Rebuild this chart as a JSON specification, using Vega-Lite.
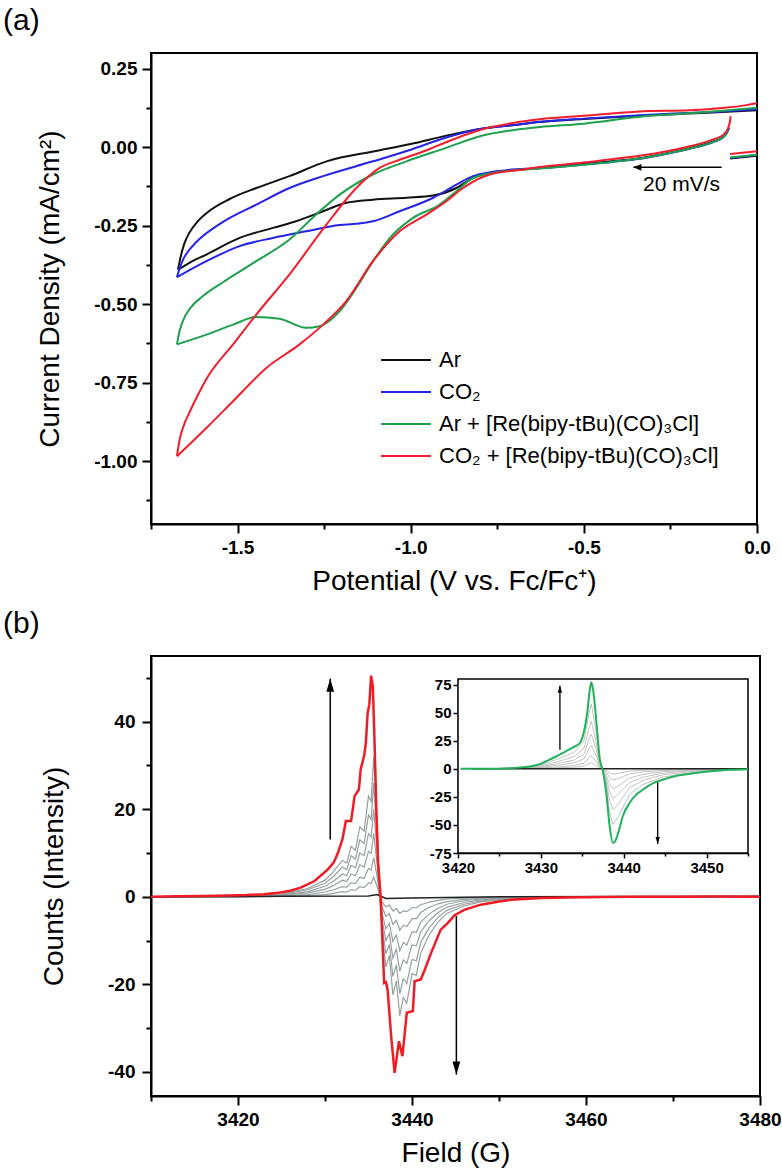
{
"$schema": "https://vega.github.io/schema/vega-lite/v6.json",
"padding": {"left": 2, "top": 5, "right": 10, "bottom": 5},
"spacing": 12,
"config": {
  "font": "Liberation Sans",
  "view": {"stroke": "black", "strokeWidth": 2},
  "axis": {"domainColor": "black", "domainWidth": 2, "tickColor": "black", "tickWidth": 2, "labelColor": "black", "titleColor": "black", "labelFont": "Liberation Sans", "titleFont": "Liberation Sans", "labelFontSize": 19, "labelFontWeight": "bold", "titleFontSize": 28, "titleFontWeight": "normal", "grid": false, "labelFlush": false, "labelOverlap": false, "labelBound": false},
  "title": {"font": "Liberation Sans", "fontSize": 30, "fontWeight": "normal", "color": "black"}
},
"datasets": {
  "cv": [
    {"s":"Ar","g":"lo","x":-1.672,"y":-0.39},{"s":"Ar","g":"lo","x":-1.639,"y":-0.368},{"s":"Ar","g":"lo","x":-1.59,"y":-0.342},{"s":"Ar","g":"lo","x":-1.494,"y":-0.289},{"s":"Ar","g":"lo","x":-1.398,"y":-0.257},{"s":"Ar","g":"lo","x":-1.331,"y":-0.236},{"s":"Ar","g":"lo","x":-1.253,"y":-0.204},{"s":"Ar","g":"lo","x":-1.186,"y":-0.177},{"s":"Ar","g":"lo","x":-1.109,"y":-0.167},{"s":"Ar","g":"lo","x":-1.012,"y":-0.161},{"s":"Ar","g":"lo","x":-0.935,"y":-0.154},{"s":"Ar","g":"lo","x":-0.868,"y":-0.13},{"s":"Ar","g":"lo","x":-0.82,"y":-0.098},{"s":"Ar","g":"lo","x":-0.772,"y":-0.082},{"s":"Ar","g":"lo","x":-0.675,"y":-0.071},{"s":"Ar","g":"lo","x":-0.627,"y":-0.066},{"s":"Ar","g":"lo","x":-0.5,"y":-0.053},{"s":"Ar","g":"lo","x":-0.42,"y":-0.045},{"s":"Ar","g":"lo","x":-0.338,"y":-0.035},{"s":"Ar","g":"lo","x":-0.26,"y":-0.019},{"s":"Ar","g":"lo","x":-0.194,"y":-0.003},{"s":"Ar","g":"lo","x":-0.126,"y":0.018},{"s":"Ar","g":"lo","x":-0.097,"y":0.033},{"s":"Ar","g":"lo","x":-0.088,"y":0.045},{"s":"Ar","g":"lo","x":-0.083,"y":0.059},
    {"s":"Ar","g":"up","x":-1.672,"y":-0.39},{"s":"Ar","g":"up","x":-1.665,"y":-0.352},{"s":"Ar","g":"up","x":-1.654,"y":-0.308},{"s":"Ar","g":"up","x":-1.639,"y":-0.272},{"s":"Ar","g":"up","x":-1.615,"y":-0.236},{"s":"Ar","g":"up","x":-1.59,"y":-0.21},{"s":"Ar","g":"up","x":-1.523,"y":-0.165},{"s":"Ar","g":"up","x":-1.446,"y":-0.13},{"s":"Ar","g":"up","x":-1.35,"y":-0.092},{"s":"Ar","g":"up","x":-1.243,"y":-0.045},{"s":"Ar","g":"up","x":-1.1,"y":-0.012},{"s":"Ar","g":"up","x":-1.0,"y":0.01},{"s":"Ar","g":"up","x":-0.9,"y":0.036},{"s":"Ar","g":"up","x":-0.8,"y":0.058},{"s":"Ar","g":"up","x":-0.7,"y":0.071},{"s":"Ar","g":"up","x":-0.627,"y":0.08},{"s":"Ar","g":"up","x":-0.5,"y":0.09},{"s":"Ar","g":"up","x":-0.338,"y":0.1},{"s":"Ar","g":"up","x":-0.2,"y":0.107},{"s":"Ar","g":"up","x":-0.1,"y":0.112},{"s":"Ar","g":"up","x":0,"y":0.118},
    {"s":"Ar","g":"st","x":-0.078,"y":-0.036},{"s":"Ar","g":"st","x":0,"y":-0.027},
    {"s":"CO2","g":"lo","x":-1.675,"y":-0.414},{"s":"CO2","g":"lo","x":-1.59,"y":-0.363},{"s":"CO2","g":"lo","x":-1.494,"y":-0.315},{"s":"CO2","g":"lo","x":-1.398,"y":-0.289},{"s":"CO2","g":"lo","x":-1.302,"y":-0.268},{"s":"CO2","g":"lo","x":-1.205,"y":-0.248},{"s":"CO2","g":"lo","x":-1.157,"y":-0.244},{"s":"CO2","g":"lo","x":-1.109,"y":-0.236},{"s":"CO2","g":"lo","x":-1.032,"y":-0.204},{"s":"CO2","g":"lo","x":-0.935,"y":-0.161},{"s":"CO2","g":"lo","x":-0.868,"y":-0.119},{"s":"CO2","g":"lo","x":-0.82,"y":-0.092},{"s":"CO2","g":"lo","x":-0.723,"y":-0.073},{"s":"CO2","g":"lo","x":-0.627,"y":-0.067},{"s":"CO2","g":"lo","x":-0.5,"y":-0.055},{"s":"CO2","g":"lo","x":-0.42,"y":-0.047},{"s":"CO2","g":"lo","x":-0.338,"y":-0.037},{"s":"CO2","g":"lo","x":-0.26,"y":-0.021},{"s":"CO2","g":"lo","x":-0.194,"y":-0.005},{"s":"CO2","g":"lo","x":-0.126,"y":0.016},{"s":"CO2","g":"lo","x":-0.097,"y":0.032},{"s":"CO2","g":"lo","x":-0.087,"y":0.046},{"s":"CO2","g":"lo","x":-0.08,"y":0.062},
    {"s":"CO2","g":"up","x":-1.675,"y":-0.414},{"s":"CO2","g":"up","x":-1.667,"y":-0.385},{"s":"CO2","g":"up","x":-1.656,"y":-0.355},{"s":"CO2","g":"up","x":-1.638,"y":-0.325},{"s":"CO2","g":"up","x":-1.619,"y":-0.302},{"s":"CO2","g":"up","x":-1.542,"y":-0.238},{"s":"CO2","g":"up","x":-1.446,"y":-0.183},{"s":"CO2","g":"up","x":-1.35,"y":-0.13},{"s":"CO2","g":"up","x":-1.253,"y":-0.092},{"s":"CO2","g":"up","x":-1.109,"y":-0.045},{"s":"CO2","g":"up","x":-1.0,"y":-0.008},{"s":"CO2","g":"up","x":-0.9,"y":0.03},{"s":"CO2","g":"up","x":-0.8,"y":0.058},{"s":"CO2","g":"up","x":-0.7,"y":0.071},{"s":"CO2","g":"up","x":-0.627,"y":0.081},{"s":"CO2","g":"up","x":-0.5,"y":0.091},{"s":"CO2","g":"up","x":-0.338,"y":0.102},{"s":"CO2","g":"up","x":-0.2,"y":0.109},{"s":"CO2","g":"up","x":-0.1,"y":0.114},{"s":"CO2","g":"up","x":0,"y":0.121},
    {"s":"CO2","g":"st","x":-0.078,"y":-0.034},{"s":"CO2","g":"st","x":0,"y":-0.025},
    {"s":"ArRe","g":"lo","x":-1.675,"y":-0.628},{"s":"ArRe","g":"lo","x":-1.59,"y":-0.597},{"s":"ArRe","g":"lo","x":-1.513,"y":-0.565},{"s":"ArRe","g":"lo","x":-1.446,"y":-0.541},{"s":"ArRe","g":"lo","x":-1.379,"y":-0.546},{"s":"ArRe","g":"lo","x":-1.302,"y":-0.575},{"s":"ArRe","g":"lo","x":-1.263,"y":-0.57},{"s":"ArRe","g":"lo","x":-1.205,"y":-0.522},{"s":"ArRe","g":"lo","x":-1.157,"y":-0.448},{"s":"ArRe","g":"lo","x":-1.109,"y":-0.363},{"s":"ArRe","g":"lo","x":-1.051,"y":-0.278},{"s":"ArRe","g":"lo","x":-0.993,"y":-0.225},{"s":"ArRe","g":"lo","x":-0.916,"y":-0.183},{"s":"ArRe","g":"lo","x":-0.868,"y":-0.14},{"s":"ArRe","g":"lo","x":-0.82,"y":-0.098},{"s":"ArRe","g":"lo","x":-0.723,"y":-0.076},{"s":"ArRe","g":"lo","x":-0.627,"y":-0.068},{"s":"ArRe","g":"lo","x":-0.5,"y":-0.056},{"s":"ArRe","g":"lo","x":-0.42,"y":-0.047},{"s":"ArRe","g":"lo","x":-0.338,"y":-0.036},{"s":"ArRe","g":"lo","x":-0.26,"y":-0.02},{"s":"ArRe","g":"lo","x":-0.194,"y":-0.004},{"s":"ArRe","g":"lo","x":-0.126,"y":0.017},{"s":"ArRe","g":"lo","x":-0.097,"y":0.033},{"s":"ArRe","g":"lo","x":-0.088,"y":0.046},{"s":"ArRe","g":"lo","x":-0.082,"y":0.062},
    {"s":"ArRe","g":"up","x":-1.675,"y":-0.628},{"s":"ArRe","g":"up","x":-1.668,"y":-0.588},{"s":"ArRe","g":"up","x":-1.656,"y":-0.548},{"s":"ArRe","g":"up","x":-1.636,"y":-0.512},{"s":"ArRe","g":"up","x":-1.6,"y":-0.474},{"s":"ArRe","g":"up","x":-1.542,"y":-0.43},{"s":"ArRe","g":"up","x":-1.446,"y":-0.363},{"s":"ArRe","g":"up","x":-1.35,"y":-0.294},{"s":"ArRe","g":"up","x":-1.273,"y":-0.214},{"s":"ArRe","g":"up","x":-1.205,"y":-0.151},{"s":"ArRe","g":"up","x":-1.109,"y":-0.087},{"s":"ArRe","g":"up","x":-1.012,"y":-0.045},{"s":"ArRe","g":"up","x":-0.9,"y":-0.003},{"s":"ArRe","g":"up","x":-0.8,"y":0.035},{"s":"ArRe","g":"up","x":-0.7,"y":0.055},{"s":"ArRe","g":"up","x":-0.627,"y":0.064},{"s":"ArRe","g":"up","x":-0.5,"y":0.075},{"s":"ArRe","g":"up","x":-0.338,"y":0.097},{"s":"ArRe","g":"up","x":-0.2,"y":0.108},{"s":"ArRe","g":"up","x":-0.1,"y":0.116},{"s":"ArRe","g":"up","x":0,"y":0.126},
    {"s":"ArRe","g":"st","x":-0.078,"y":-0.033},{"s":"ArRe","g":"st","x":0,"y":-0.024},
    {"s":"CO2Re","g":"lo","x":-1.675,"y":-0.984},{"s":"CO2Re","g":"lo","x":-1.59,"y":-0.894},{"s":"CO2Re","g":"lo","x":-1.513,"y":-0.809},{"s":"CO2Re","g":"lo","x":-1.417,"y":-0.703},{"s":"CO2Re","g":"lo","x":-1.321,"y":-0.628},{"s":"CO2Re","g":"lo","x":-1.253,"y":-0.565},{"s":"CO2Re","g":"lo","x":-1.186,"y":-0.49},{"s":"CO2Re","g":"lo","x":-1.109,"y":-0.363},{"s":"CO2Re","g":"lo","x":-1.032,"y":-0.268},{"s":"CO2Re","g":"lo","x":-0.954,"y":-0.214},{"s":"CO2Re","g":"lo","x":-0.897,"y":-0.172},{"s":"CO2Re","g":"lo","x":-0.849,"y":-0.13},{"s":"CO2Re","g":"lo","x":-0.772,"y":-0.087},{"s":"CO2Re","g":"lo","x":-0.675,"y":-0.071},{"s":"CO2Re","g":"lo","x":-0.627,"y":-0.063},{"s":"CO2Re","g":"lo","x":-0.5,"y":-0.049},{"s":"CO2Re","g":"lo","x":-0.42,"y":-0.038},{"s":"CO2Re","g":"lo","x":-0.338,"y":-0.027},{"s":"CO2Re","g":"lo","x":-0.26,"y":-0.013},{"s":"CO2Re","g":"lo","x":-0.194,"y":0.003},{"s":"CO2Re","g":"lo","x":-0.126,"y":0.025},{"s":"CO2Re","g":"lo","x":-0.097,"y":0.04},{"s":"CO2Re","g":"lo","x":-0.085,"y":0.057},{"s":"CO2Re","g":"lo","x":-0.079,"y":0.077},{"s":"CO2Re","g":"lo","x":-0.076,"y":0.099},
    {"s":"CO2Re","g":"up","x":-1.675,"y":-0.984},{"s":"CO2Re","g":"up","x":-1.668,"y":-0.935},{"s":"CO2Re","g":"up","x":-1.655,"y":-0.885},{"s":"CO2Re","g":"up","x":-1.639,"y":-0.845},{"s":"CO2Re","g":"up","x":-1.615,"y":-0.79},{"s":"CO2Re","g":"up","x":-1.59,"y":-0.738},{"s":"CO2Re","g":"up","x":-1.513,"y":-0.628},{"s":"CO2Re","g":"up","x":-1.446,"y":-0.533},{"s":"CO2Re","g":"up","x":-1.35,"y":-0.405},{"s":"CO2Re","g":"up","x":-1.243,"y":-0.246},{"s":"CO2Re","g":"up","x":-1.157,"y":-0.13},{"s":"CO2Re","g":"up","x":-1.09,"y":-0.066},{"s":"CO2Re","g":"up","x":-1.032,"y":-0.04},{"s":"CO2Re","g":"up","x":-0.95,"y":-0.008},{"s":"CO2Re","g":"up","x":-0.9,"y":0.015},{"s":"CO2Re","g":"up","x":-0.8,"y":0.055},{"s":"CO2Re","g":"up","x":-0.7,"y":0.078},{"s":"CO2Re","g":"up","x":-0.627,"y":0.089},{"s":"CO2Re","g":"up","x":-0.5,"y":0.1},{"s":"CO2Re","g":"up","x":-0.338,"y":0.114},{"s":"CO2Re","g":"up","x":-0.194,"y":0.118},{"s":"CO2Re","g":"up","x":-0.1,"y":0.125},{"s":"CO2Re","g":"up","x":-0.03,"y":0.134},{"s":"CO2Re","g":"up","x":0,"y":0.141},
    {"s":"CO2Re","g":"st","x":-0.078,"y":-0.022},{"s":"CO2Re","g":"st","x":0,"y":-0.013}
  ],
  "eprGray": [
    {"s":"g1","x":3410,"y":0},{"s":"g1","x":3420,"y":0.2},{"s":"g1","x":3425,"y":0.6},{"s":"g1","x":3428,"y":1.9},{"s":"g1","x":3430,"y":3.8},{"s":"g1","x":3431,"y":5.8},{"s":"g1","x":3432,"y":8.3},{"s":"g1","x":3432.5,"y":7.7},{"s":"g1","x":3433,"y":11.5},{"s":"g1","x":3433.5,"y":10.6},{"s":"g1","x":3434,"y":16},{"s":"g1","x":3434.5,"y":15},{"s":"g1","x":3435,"y":23},{"s":"g1","x":3435.3,"y":21.8},{"s":"g1","x":3435.6,"y":32},{"s":"g1","x":3436,"y":16},{"s":"g1","x":3436.3,"y":0},{"s":"g1","x":3436.6,"y":-9},{"s":"g1","x":3437,"y":-16},{"s":"g1","x":3437.4,"y":-13.4},{"s":"g1","x":3437.8,"y":-22.4},{"s":"g1","x":3438.2,"y":-19.2},{"s":"g1","x":3438.6,"y":-27.2},{"s":"g1","x":3439,"y":-23},{"s":"g1","x":3439.4,"y":-24.3},{"s":"g1","x":3440,"y":-17.6},{"s":"g1","x":3440.5,"y":-17.9},{"s":"g1","x":3441,"y":-12.8},{"s":"g1","x":3442,"y":-8.6},{"s":"g1","x":3443,"y":-5.8},{"s":"g1","x":3444,"y":-3.8},{"s":"g1","x":3446,"y":-2.1},{"s":"g1","x":3448,"y":-1.1},{"s":"g1","x":3452,"y":-0.4},{"s":"g1","x":3460,"y":0},{"s":"g1","x":3480,"y":0},
    {"s":"g2","x":3410,"y":0},{"s":"g2","x":3420,"y":0.1},{"s":"g2","x":3425,"y":0.5},{"s":"g2","x":3428,"y":1.6},{"s":"g2","x":3430,"y":3.1},{"s":"g2","x":3431,"y":4.7},{"s":"g2","x":3432,"y":6.8},{"s":"g2","x":3432.5,"y":6.2},{"s":"g2","x":3433,"y":9.4},{"s":"g2","x":3433.5,"y":8.6},{"s":"g2","x":3434,"y":13},{"s":"g2","x":3434.5,"y":12.2},{"s":"g2","x":3435,"y":18.7},{"s":"g2","x":3435.3,"y":17.7},{"s":"g2","x":3435.6,"y":26},{"s":"g2","x":3436,"y":13},{"s":"g2","x":3436.3,"y":0},{"s":"g2","x":3436.6,"y":-7.3},{"s":"g2","x":3437,"y":-13},{"s":"g2","x":3437.4,"y":-10.9},{"s":"g2","x":3437.8,"y":-18.2},{"s":"g2","x":3438.2,"y":-15.6},{"s":"g2","x":3438.6,"y":-22.1},{"s":"g2","x":3439,"y":-18.7},{"s":"g2","x":3439.4,"y":-19.8},{"s":"g2","x":3440,"y":-14.3},{"s":"g2","x":3440.5,"y":-14.6},{"s":"g2","x":3441,"y":-10.4},{"s":"g2","x":3442,"y":-7},{"s":"g2","x":3443,"y":-4.7},{"s":"g2","x":3444,"y":-3.1},{"s":"g2","x":3446,"y":-1.7},{"s":"g2","x":3448,"y":-0.9},{"s":"g2","x":3452,"y":-0.3},{"s":"g2","x":3460,"y":0},{"s":"g2","x":3480,"y":0},
    {"s":"g3","x":3410,"y":0},{"s":"g3","x":3420,"y":0.1},{"s":"g3","x":3425,"y":0.4},{"s":"g3","x":3428,"y":1.2},{"s":"g3","x":3430,"y":2.4},{"s":"g3","x":3431,"y":3.6},{"s":"g3","x":3432,"y":5.2},{"s":"g3","x":3432.5,"y":4.8},{"s":"g3","x":3433,"y":7.2},{"s":"g3","x":3433.5,"y":6.6},{"s":"g3","x":3434,"y":10},{"s":"g3","x":3434.5,"y":9.4},{"s":"g3","x":3435,"y":14.4},{"s":"g3","x":3435.3,"y":13.6},{"s":"g3","x":3435.6,"y":20},{"s":"g3","x":3436,"y":10},{"s":"g3","x":3436.3,"y":0},{"s":"g3","x":3436.6,"y":-5.6},{"s":"g3","x":3437,"y":-10},{"s":"g3","x":3437.4,"y":-8.4},{"s":"g3","x":3437.8,"y":-14},{"s":"g3","x":3438.2,"y":-12},{"s":"g3","x":3438.6,"y":-17},{"s":"g3","x":3439,"y":-14.4},{"s":"g3","x":3439.4,"y":-15.2},{"s":"g3","x":3440,"y":-11},{"s":"g3","x":3440.5,"y":-11.2},{"s":"g3","x":3441,"y":-8},{"s":"g3","x":3442,"y":-5.4},{"s":"g3","x":3443,"y":-3.6},{"s":"g3","x":3444,"y":-2.4},{"s":"g3","x":3446,"y":-1.3},{"s":"g3","x":3448,"y":-0.7},{"s":"g3","x":3452,"y":-0.2},{"s":"g3","x":3460,"y":0},{"s":"g3","x":3480,"y":0},
    {"s":"g4","x":3410,"y":0},{"s":"g4","x":3420,"y":0.1},{"s":"g4","x":3425,"y":0.3},{"s":"g4","x":3428,"y":0.9},{"s":"g4","x":3430,"y":1.7},{"s":"g4","x":3431,"y":2.6},{"s":"g4","x":3432,"y":3.8},{"s":"g4","x":3432.5,"y":3.5},{"s":"g4","x":3433,"y":5.2},{"s":"g4","x":3433.5,"y":4.8},{"s":"g4","x":3434,"y":7.3},{"s":"g4","x":3434.5,"y":6.8},{"s":"g4","x":3435,"y":10.4},{"s":"g4","x":3435.3,"y":9.9},{"s":"g4","x":3435.6,"y":14.5},{"s":"g4","x":3436,"y":7.3},{"s":"g4","x":3436.3,"y":0},{"s":"g4","x":3436.6,"y":-4.1},{"s":"g4","x":3437,"y":-7.3},{"s":"g4","x":3437.4,"y":-6.1},{"s":"g4","x":3437.8,"y":-10.2},{"s":"g4","x":3438.2,"y":-8.7},{"s":"g4","x":3438.6,"y":-12.3},{"s":"g4","x":3439,"y":-10.4},{"s":"g4","x":3439.4,"y":-11},{"s":"g4","x":3440,"y":-8},{"s":"g4","x":3440.5,"y":-8.1},{"s":"g4","x":3441,"y":-5.8},{"s":"g4","x":3442,"y":-3.9},{"s":"g4","x":3443,"y":-2.6},{"s":"g4","x":3444,"y":-1.7},{"s":"g4","x":3446,"y":-0.9},{"s":"g4","x":3448,"y":-0.5},{"s":"g4","x":3452,"y":-0.2},{"s":"g4","x":3460,"y":0},{"s":"g4","x":3480,"y":0},
    {"s":"g5","x":3410,"y":0},{"s":"g5","x":3420,"y":0},{"s":"g5","x":3425,"y":0.2},{"s":"g5","x":3428,"y":0.5},{"s":"g5","x":3430,"y":1.1},{"s":"g5","x":3431,"y":1.6},{"s":"g5","x":3432,"y":2.3},{"s":"g5","x":3432.5,"y":2.2},{"s":"g5","x":3433,"y":3.2},{"s":"g5","x":3433.5,"y":3},{"s":"g5","x":3434,"y":4.5},{"s":"g5","x":3434.5,"y":4.2},{"s":"g5","x":3435,"y":6.5},{"s":"g5","x":3435.3,"y":6.1},{"s":"g5","x":3435.6,"y":9},{"s":"g5","x":3436,"y":4.5},{"s":"g5","x":3436.3,"y":0},{"s":"g5","x":3436.6,"y":-2.5},{"s":"g5","x":3437,"y":-4.5},{"s":"g5","x":3437.4,"y":-3.8},{"s":"g5","x":3437.8,"y":-6.3},{"s":"g5","x":3438.2,"y":-5.4},{"s":"g5","x":3438.6,"y":-7.7},{"s":"g5","x":3439,"y":-6.5},{"s":"g5","x":3439.4,"y":-6.8},{"s":"g5","x":3440,"y":-5},{"s":"g5","x":3440.5,"y":-5},{"s":"g5","x":3441,"y":-3.6},{"s":"g5","x":3442,"y":-2.4},{"s":"g5","x":3443,"y":-1.6},{"s":"g5","x":3444,"y":-1.1},{"s":"g5","x":3446,"y":-0.6},{"s":"g5","x":3448,"y":-0.3},{"s":"g5","x":3452,"y":-0.1},{"s":"g5","x":3460,"y":0},{"s":"g5","x":3480,"y":0},
    {"s":"g6","x":3410,"y":0},{"s":"g6","x":3420,"y":0},{"s":"g6","x":3425,"y":0.1},{"s":"g6","x":3428,"y":0.3},{"s":"g6","x":3430,"y":0.5},{"s":"g6","x":3431,"y":0.8},{"s":"g6","x":3432,"y":1.2},{"s":"g6","x":3432.5,"y":1.1},{"s":"g6","x":3433,"y":1.6},{"s":"g6","x":3433.5,"y":1.5},{"s":"g6","x":3434,"y":2.3},{"s":"g6","x":3434.5,"y":2.1},{"s":"g6","x":3435,"y":3.2},{"s":"g6","x":3435.3,"y":3.1},{"s":"g6","x":3435.6,"y":4.5},{"s":"g6","x":3436,"y":2.3},{"s":"g6","x":3436.3,"y":0},{"s":"g6","x":3436.6,"y":-1.3},{"s":"g6","x":3437,"y":-2.3},{"s":"g6","x":3437.4,"y":-1.9},{"s":"g6","x":3437.8,"y":-3.2},{"s":"g6","x":3438.2,"y":-2.7},{"s":"g6","x":3438.6,"y":-3.8},{"s":"g6","x":3439,"y":-3.2},{"s":"g6","x":3439.4,"y":-3.4},{"s":"g6","x":3440,"y":-2.5},{"s":"g6","x":3440.5,"y":-2.5},{"s":"g6","x":3441,"y":-1.8},{"s":"g6","x":3442,"y":-1.2},{"s":"g6","x":3443,"y":-0.8},{"s":"g6","x":3444,"y":-0.5},{"s":"g6","x":3446,"y":-0.3},{"s":"g6","x":3448,"y":-0.2},{"s":"g6","x":3452,"y":-0.1},{"s":"g6","x":3460,"y":0},{"s":"g6","x":3480,"y":0}
  ],
  "eprBlack": [
    {"x":3410,"y":0},{"x":3425,"y":0.1},{"x":3435,"y":0.2},{"x":3436,"y":0.5},{"x":3437,"y":-0.4},{"x":3440,"y":-0.3},{"x":3450,"y":0},{"x":3480,"y":0.1}
  ],
  "eprRed": [
    {"x":3410,"y":0},{"x":3413,"y":0.1},{"x":3416,"y":0.2},{"x":3419,"y":0.3},{"x":3421,"y":0.4},{"x":3423,"y":0.6},{"x":3424.6,"y":0.9},{"x":3426,"y":1.4},{"x":3427.2,"y":2.1},{"x":3428.8,"y":3.6},{"x":3430.3,"y":6.2},{"x":3431,"y":7.8},{"x":3431.5,"y":10.1},{"x":3432,"y":13.1},{"x":3432.4,"y":17.3},{"x":3433,"y":17.3},{"x":3433.4,"y":23},{"x":3433.9,"y":24.5},{"x":3434.1,"y":29.1},{"x":3434.5,"y":32.2},{"x":3434.7,"y":35.2},{"x":3434.9,"y":42},{"x":3435.1,"y":44},{"x":3435.3,"y":50.5},{"x":3435.5,"y":48},{"x":3435.7,"y":35},{"x":3435.9,"y":20},{"x":3436.1,"y":8},{"x":3436.4,"y":-0.2},{"x":3436.6,"y":-10},{"x":3436.8,"y":-19.7},{"x":3437,"y":-19.5},{"x":3437.2,"y":-21.2},{"x":3437.6,"y":-31.8},{"x":3438,"y":-40.2},{"x":3438.5,"y":-33},{"x":3438.9,"y":-36.4},{"x":3439.4,"y":-26.5},{"x":3440.1,"y":-26.1},{"x":3440.3,"y":-19.3},{"x":3441,"y":-18.9},{"x":3441.4,"y":-17},{"x":3442.2,"y":-12.8},{"x":3443.3,"y":-7.5},{"x":3444.1,"y":-6},{"x":3444.9,"y":-4.2},{"x":3446,"y":-3},{"x":3447.9,"y":-1.8},{"x":3450.2,"y":-1},{"x":3451.8,"y":-0.6},{"x":3455,"y":-0.3},{"x":3459.4,"y":-0.1},{"x":3465,"y":0},{"x":3470,"y":0},{"x":3475,"y":0.05},{"x":3480,"y":0}
  ],
  "insGray": [
    {"s":"h1","x":3421.7,"y":0},{"s":"h1","x":3426,"y":0.4},{"s":"h1","x":3430,"y":3.4},{"s":"h1","x":3432,"y":8.6},{"s":"h1","x":3434,"y":14.6},{"s":"h1","x":3435.2,"y":24.8},{"s":"h1","x":3435.9,"y":52.5},{"s":"h1","x":3436.1,"y":57.8},{"s":"h1","x":3436.7,"y":31.5},{"s":"h1","x":3437.1,"y":7.1},{"s":"h1","x":3437.5,"y":-1.7},{"s":"h1","x":3437.9,"y":-16.2},{"s":"h1","x":3438.3,"y":-38.3},{"s":"h1","x":3438.7,"y":-49.5},{"s":"h1","x":3439.3,"y":-43.5},{"s":"h1","x":3440.7,"y":-22.9},{"s":"h1","x":3442.3,"y":-14},{"s":"h1","x":3444.7,"y":-7.4},{"s":"h1","x":3448.7,"y":-2.9},{"s":"h1","x":3455,"y":-0.2},
    {"s":"h2","x":3421.7,"y":0},{"s":"h2","x":3426,"y":0.3},{"s":"h2","x":3430,"y":2.5},{"s":"h2","x":3432,"y":6.3},{"s":"h2","x":3434,"y":10.7},{"s":"h2","x":3435.2,"y":18.2},{"s":"h2","x":3435.9,"y":38.5},{"s":"h2","x":3436.1,"y":42.4},{"s":"h2","x":3436.7,"y":23.1},{"s":"h2","x":3437.1,"y":5.2},{"s":"h2","x":3437.5,"y":-1.3},{"s":"h2","x":3437.9,"y":-11.9},{"s":"h2","x":3438.3,"y":-28.1},{"s":"h2","x":3438.7,"y":-36.3},{"s":"h2","x":3439.3,"y":-31.9},{"s":"h2","x":3440.7,"y":-16.8},{"s":"h2","x":3442.3,"y":-10.3},{"s":"h2","x":3444.7,"y":-5.4},{"s":"h2","x":3448.7,"y":-2.1},{"s":"h2","x":3455,"y":-0.2},
    {"s":"h3","x":3421.7,"y":0},{"s":"h3","x":3426,"y":0.2},{"s":"h3","x":3430,"y":1.8},{"s":"h3","x":3432,"y":4.6},{"s":"h3","x":3434,"y":7.8},{"s":"h3","x":3435.2,"y":13.2},{"s":"h3","x":3435.9,"y":28},{"s":"h3","x":3436.1,"y":30.8},{"s":"h3","x":3436.7,"y":16.8},{"s":"h3","x":3437.1,"y":3.8},{"s":"h3","x":3437.5,"y":-0.9},{"s":"h3","x":3437.9,"y":-8.6},{"s":"h3","x":3438.3,"y":-20.4},{"s":"h3","x":3438.7,"y":-26.4},{"s":"h3","x":3439.3,"y":-23.2},{"s":"h3","x":3440.7,"y":-12.2},{"s":"h3","x":3442.3,"y":-7.5},{"s":"h3","x":3444.7,"y":-3.9},{"s":"h3","x":3448.7,"y":-1.5},{"s":"h3","x":3455,"y":-0.1},
    {"s":"h4","x":3421.7,"y":0},{"s":"h4","x":3426,"y":0.1},{"s":"h4","x":3430,"y":1.2},{"s":"h4","x":3432,"y":3.1},{"s":"h4","x":3434,"y":5.3},{"s":"h4","x":3435.2,"y":8.9},{"s":"h4","x":3435.9,"y":18.9},{"s":"h4","x":3436.1,"y":20.8},{"s":"h4","x":3436.7,"y":11.3},{"s":"h4","x":3437.1,"y":2.6},{"s":"h4","x":3437.5,"y":-0.6},{"s":"h4","x":3437.9,"y":-5.8},{"s":"h4","x":3438.3,"y":-13.8},{"s":"h4","x":3438.7,"y":-17.8},{"s":"h4","x":3439.3,"y":-15.7},{"s":"h4","x":3440.7,"y":-8.2},{"s":"h4","x":3442.3,"y":-5},{"s":"h4","x":3444.7,"y":-2.6},{"s":"h4","x":3448.7,"y":-1},{"s":"h4","x":3455,"y":-0.1},
    {"s":"h5","x":3421.7,"y":0},{"s":"h5","x":3426,"y":0.1},{"s":"h5","x":3430,"y":0.7},{"s":"h5","x":3432,"y":1.7},{"s":"h5","x":3434,"y":2.9},{"s":"h5","x":3435.2,"y":5},{"s":"h5","x":3435.9,"y":10.5},{"s":"h5","x":3436.1,"y":11.6},{"s":"h5","x":3436.7,"y":6.3},{"s":"h5","x":3437.1,"y":1.4},{"s":"h5","x":3437.5,"y":-0.3},{"s":"h5","x":3437.9,"y":-3.2},{"s":"h5","x":3438.3,"y":-7.7},{"s":"h5","x":3438.7,"y":-9.9},{"s":"h5","x":3439.3,"y":-8.7},{"s":"h5","x":3440.7,"y":-4.6},{"s":"h5","x":3442.3,"y":-2.8},{"s":"h5","x":3444.7,"y":-1.5},{"s":"h5","x":3448.7,"y":-0.6},{"s":"h5","x":3455,"y":0},
    {"s":"h6","x":3421.7,"y":0},{"s":"h6","x":3426,"y":0},{"s":"h6","x":3430,"y":0.3},{"s":"h6","x":3432,"y":0.8},{"s":"h6","x":3434,"y":1.4},{"s":"h6","x":3435.2,"y":2.3},{"s":"h6","x":3435.9,"y":4.9},{"s":"h6","x":3436.1,"y":5.4},{"s":"h6","x":3436.7,"y":2.9},{"s":"h6","x":3437.1,"y":0.7},{"s":"h6","x":3437.5,"y":-0.2},{"s":"h6","x":3437.9,"y":-1.5},{"s":"h6","x":3438.3,"y":-3.6},{"s":"h6","x":3438.7,"y":-4.6},{"s":"h6","x":3439.3,"y":-4.1},{"s":"h6","x":3440.7,"y":-2.1},{"s":"h6","x":3442.3,"y":-1.3},{"s":"h6","x":3444.7,"y":-0.7},{"s":"h6","x":3448.7,"y":-0.3},{"s":"h6","x":3455,"y":0}
  ],
  "insGreen": [
    {"x":3420.3,"y":0},{"x":3424,"y":0},{"x":3426,"y":0.5},{"x":3428,"y":1.5},{"x":3429,"y":2.5},{"x":3430,"y":4.5},{"x":3431,"y":8},{"x":3432,"y":11.5},{"x":3433,"y":15.5},{"x":3434,"y":19.5},{"x":3434.7,"y":23},{"x":3435.2,"y":33},{"x":3435.6,"y":50},{"x":3435.9,"y":70},{"x":3436.1,"y":77},{"x":3436.4,"y":65},{"x":3436.7,"y":42},{"x":3437.1,"y":9.5},{"x":3437.5,"y":-2.3},{"x":3437.9,"y":-21.6},{"x":3438.3,"y":-51},{"x":3438.7,"y":-66},{"x":3439,"y":-64},{"x":3439.3,"y":-58},{"x":3439.9,"y":-42},{"x":3440.7,"y":-30.5},{"x":3441.5,"y":-23},{"x":3442.3,"y":-18.7},{"x":3443.5,"y":-13},{"x":3444.7,"y":-9.8},{"x":3446.5,"y":-6},{"x":3448.7,"y":-3.8},{"x":3450.5,"y":-2.2},{"x":3452.7,"y":-0.9},{"x":3455,"y":-0.3}
  ]
},
"vconcat": [
  {
    "width": 606, "height": 471,
    "title": {"text": "(a)", "anchor": "start", "frame": "group", "dx": -148, "offset": 17},
    "layer": [
      {
        "data": {"name": "cv"},
        "mark": {"type": "line", "strokeWidth": 2, "interpolate": "monotone"},
        "encoding": {
          "x": {"field": "x", "type": "quantitative", "scale": {"domain": [-1.75, 0], "nice": false, "zero": false},
                "axis": {"title": "Potential (V vs. Fc/Fc\u207a)", "values": [-1.75,-1.5,-1.25,-1,-0.75,-0.5,-0.25,0], "format": ".1f",
                         "labelExpr": "abs(datum.value*2 - round(datum.value*2)) < 0.001 ? replace(datum.label, '\u2212', '-') : ''",
                         "tickSize": {"condition": {"test": "abs(datum.value*2 - round(datum.value*2)) < 0.001", "value": 9}, "value": 5},
                         "labelPadding": 5, "titlePadding": 10}},
          "y": {"field": "y", "type": "quantitative", "scale": {"domain": [-1.2, 0.3], "nice": false, "zero": false},
                "axis": {"title": "Current Density (mA/cm\u00b2)", "values": [-1.125,-1,-0.875,-0.75,-0.625,-0.5,-0.375,-0.25,-0.125,0,0.125,0.25], "format": ".2f",
                         "labelExpr": "abs(datum.value*4 - round(datum.value*4)) < 0.001 ? replace(datum.label, '\u2212', '-') : ''",
                         "tickSize": {"condition": {"test": "abs(datum.value*4 - round(datum.value*4)) < 0.001", "value": 9}, "value": 5},
                         "labelPadding": 5, "titlePadding": 29}},
          "color": {"field": "s", "type": "nominal",
                    "scale": {"domain": ["Ar","CO2","ArRe","CO2Re"], "range": ["#111111","#2424e8","#1ea04c","#f21d2b"]},
                    "legend": {"orient": "none", "legendX": 244, "legendY": 296, "title": null, "symbolType": "M-2.5,0H2.5", "symbolSize": 400, "symbolStrokeWidth": 2,
                               "labelFontSize": 22, "labelFont": "Liberation Sans", "labelColor": "black", "rowPadding": 10, "labelOffset": 22, "padding": 0, "labelLimit": 400,
                               "labelExpr": "datum.label == 'Ar' ? 'Ar' : datum.label == 'CO2' ? 'CO\u2082' : datum.label == 'ArRe' ? 'Ar + [Re(bipy-tBu)(CO)\u2083Cl]' : 'CO\u2082 + [Re(bipy-tBu)(CO)\u2083Cl]'"}},
          "detail": {"field": "g", "type": "nominal"}
        }
      },
      {
        "data": {"values": [{"x": -0.102, "x2": -0.357, "y": -0.064}]},
        "mark": {"type": "rule", "strokeWidth": 1.5, "color": "black"},
        "encoding": {"x": {"field": "x", "type": "quantitative"}, "x2": {"field": "x2"}, "y": {"field": "y", "type": "quantitative"}}
      },
      {
        "data": {"values": [{"x": -0.357, "y": -0.064}]},
        "mark": {"type": "point", "shape": "M0,0L2,-0.85L2,0.85Z", "filled": true, "size": 64, "color": "black", "opacity": 1},
        "encoding": {"x": {"field": "x", "type": "quantitative"}, "y": {"field": "y", "type": "quantitative"}}
      },
      {
        "data": {"values": [{"x": -0.218, "y": -0.119, "t": "20 mV/s"}]},
        "mark": {"type": "text", "fontSize": 21, "font": "Liberation Sans", "color": "black", "align": "center", "baseline": "middle"},
        "encoding": {"x": {"field": "x", "type": "quantitative"}, "y": {"field": "y", "type": "quantitative"}, "text": {"field": "t"}}
      }
    ]
  },
  {
    "width": 609, "height": 440,
    "title": {"text": "(b)", "anchor": "start", "frame": "group", "dx": -148, "offset": 17},
    "resolve": {"scale": {"x": "independent", "y": "independent"}, "axis": {"x": "independent", "y": "independent"}},
    "layer": [
      {
        "layer": [
          {
            "data": {"name": "eprGray"},
            "mark": {"type": "line", "strokeWidth": 1.2, "color": "#97a0a0"},
            "encoding": {
              "x": {"field": "x", "type": "quantitative", "scale": {"domain": [3410, 3480], "nice": false, "zero": false},
                    "axis": {"title": "Field (G)", "values": [3410,3420,3430,3440,3450,3460,3470,3480], "format": "d",
                             "labelExpr": "datum.value % 20 == 0 ? datum.label : ''",
                             "tickSize": {"condition": {"test": "datum.value % 20 == 0", "value": 9}, "value": 5},
                             "labelPadding": 5, "titlePadding": 10}},
              "y": {"field": "y", "type": "quantitative", "scale": {"domain": [-45.5, 55], "nice": false, "zero": false},
                    "axis": {"title": "Counts (Intensity)", "values": [-40,-30,-20,-10,0,10,20,30,40,50], "format": "d",
                             "labelExpr": "datum.value % 20 == 0 ? replace(datum.label, '\u2212', '-') : ''",
                             "tickSize": {"condition": {"test": "datum.value % 20 == 0", "value": 9}, "value": 5},
                             "labelPadding": 7, "titlePadding": 39}},
              "detail": {"field": "s", "type": "nominal"}
            }
          },
          {
            "data": {"name": "eprBlack"},
            "mark": {"type": "line", "strokeWidth": 1.5, "color": "#222222"},
            "encoding": {"x": {"field": "x", "type": "quantitative"}, "y": {"field": "y", "type": "quantitative"}}
          },
          {
            "data": {"name": "eprRed"},
            "mark": {"type": "line", "strokeWidth": 2.5, "color": "#f01c24"},
            "encoding": {"x": {"field": "x", "type": "quantitative"}, "y": {"field": "y", "type": "quantitative"}}
          },
          {
            "data": {"values": [{"x": 3430.6, "y": 13.1, "y2": 49.8}, {"x": 3445.1, "y": -4.4, "y2": -40.6}]},
            "mark": {"type": "rule", "strokeWidth": 1.5, "color": "black"},
            "encoding": {"x": {"field": "x", "type": "quantitative"}, "y": {"field": "y", "type": "quantitative"}, "y2": {"field": "y2"}}
          },
          {
            "data": {"values": [{"x": 3430.6, "y": 49.8}]},
            "mark": {"type": "point", "shape": "M0,0L-0.6,2L0.6,2Z", "filled": true, "size": 169, "color": "black", "opacity": 1},
            "encoding": {"x": {"field": "x", "type": "quantitative"}, "y": {"field": "y", "type": "quantitative"}}
          },
          {
            "data": {"values": [{"x": 3445.1, "y": -40.6}]},
            "mark": {"type": "point", "shape": "M0,0L-0.6,-2L0.6,-2Z", "filled": true, "size": 169, "color": "black", "opacity": 1},
            "encoding": {"x": {"field": "x", "type": "quantitative"}, "y": {"field": "y", "type": "quantitative"}}
          }
        ]
      },
      {
        "layer": [
          {
            "data": {"values": [{"x": 3420, "x2": 3455, "y": -75, "y2": 80}]},
            "mark": {"type": "rect", "fill": "white", "stroke": "black", "strokeWidth": 1.5},
            "encoding": {
              "x": {"field": "x", "type": "quantitative", "scale": {"domain": [3420, 3455], "range": [307, 597], "nice": false, "zero": false},
                    "axis": {"orient": "bottom", "offset": -243, "title": null, "values": [3420,3425,3430,3435,3440,3445,3450,3455], "format": "d",
                             "labelExpr": "datum.value % 10 == 0 ? datum.label : ''",
                             "tickSize": {"condition": {"test": "datum.value % 10 == 0", "value": 5}, "value": 3},
                             "labelFontSize": 15, "labelPadding": 2, "domainWidth": 1.5, "tickWidth": 1.5}},
              "x2": {"field": "x2"},
              "y": {"field": "y", "type": "quantitative", "scale": {"domain": [-75, 80], "range": [197, 23], "nice": false, "zero": false},
                    "axis": {"orient": "left", "offset": -307, "title": null, "values": [-75,-62.5,-50,-37.5,-25,-12.5,0,12.5,25,37.5,50,62.5,75], "format": ".0f",
                             "labelExpr": "datum.value % 25 == 0 ? replace(datum.label, '\u2212', '-') : ''",
                             "tickSize": {"condition": {"test": "datum.value % 25 == 0", "value": 5}, "value": 3},
                             "labelFontSize": 15, "labelPadding": 2, "domainWidth": 1.5, "tickWidth": 1.5}},
              "y2": {"field": "y2"}
            }
          },
          {
            "data": {"name": "insGray"},
            "mark": {"type": "line", "strokeWidth": 0.8, "color": "#b4b4b4"},
            "encoding": {"x": {"field": "x", "type": "quantitative"}, "y": {"field": "y", "type": "quantitative"}, "detail": {"field": "s", "type": "nominal"}}
          },
          {
            "data": {"values": [{"x": 3421.7, "y": 0}, {"x": 3455, "y": 0}]},
            "mark": {"type": "line", "strokeWidth": 1.5, "color": "#222222"},
            "encoding": {"x": {"field": "x", "type": "quantitative"}, "y": {"field": "y", "type": "quantitative"}}
          },
          {
            "data": {"name": "insGreen"},
            "mark": {"type": "line", "strokeWidth": 2, "color": "#22b25c", "interpolate": "monotone"},
            "encoding": {"x": {"field": "x", "type": "quantitative"}, "y": {"field": "y", "type": "quantitative"}}
          },
          {
            "data": {"values": [{"x": 3432.3, "y": 17, "y2": 74}, {"x": 3444.1, "y": -12, "y2": -67}]},
            "mark": {"type": "rule", "strokeWidth": 1.3, "color": "black"},
            "encoding": {"x": {"field": "x", "type": "quantitative"}, "y": {"field": "y", "type": "quantitative"}, "y2": {"field": "y2"}}
          },
          {
            "data": {"values": [{"x": 3432.3, "y": 74}]},
            "mark": {"type": "point", "shape": "M0,0L-0.63,2L0.63,2Z", "filled": true, "size": 49, "color": "black", "opacity": 1},
            "encoding": {"x": {"field": "x", "type": "quantitative"}, "y": {"field": "y", "type": "quantitative"}}
          },
          {
            "data": {"values": [{"x": 3444.1, "y": -67}]},
            "mark": {"type": "point", "shape": "M0,0L-0.63,-2L0.63,-2Z", "filled": true, "size": 49, "color": "black", "opacity": 1},
            "encoding": {"x": {"field": "x", "type": "quantitative"}, "y": {"field": "y", "type": "quantitative"}}
          }
        ]
      }
    ]
  }
]
}
